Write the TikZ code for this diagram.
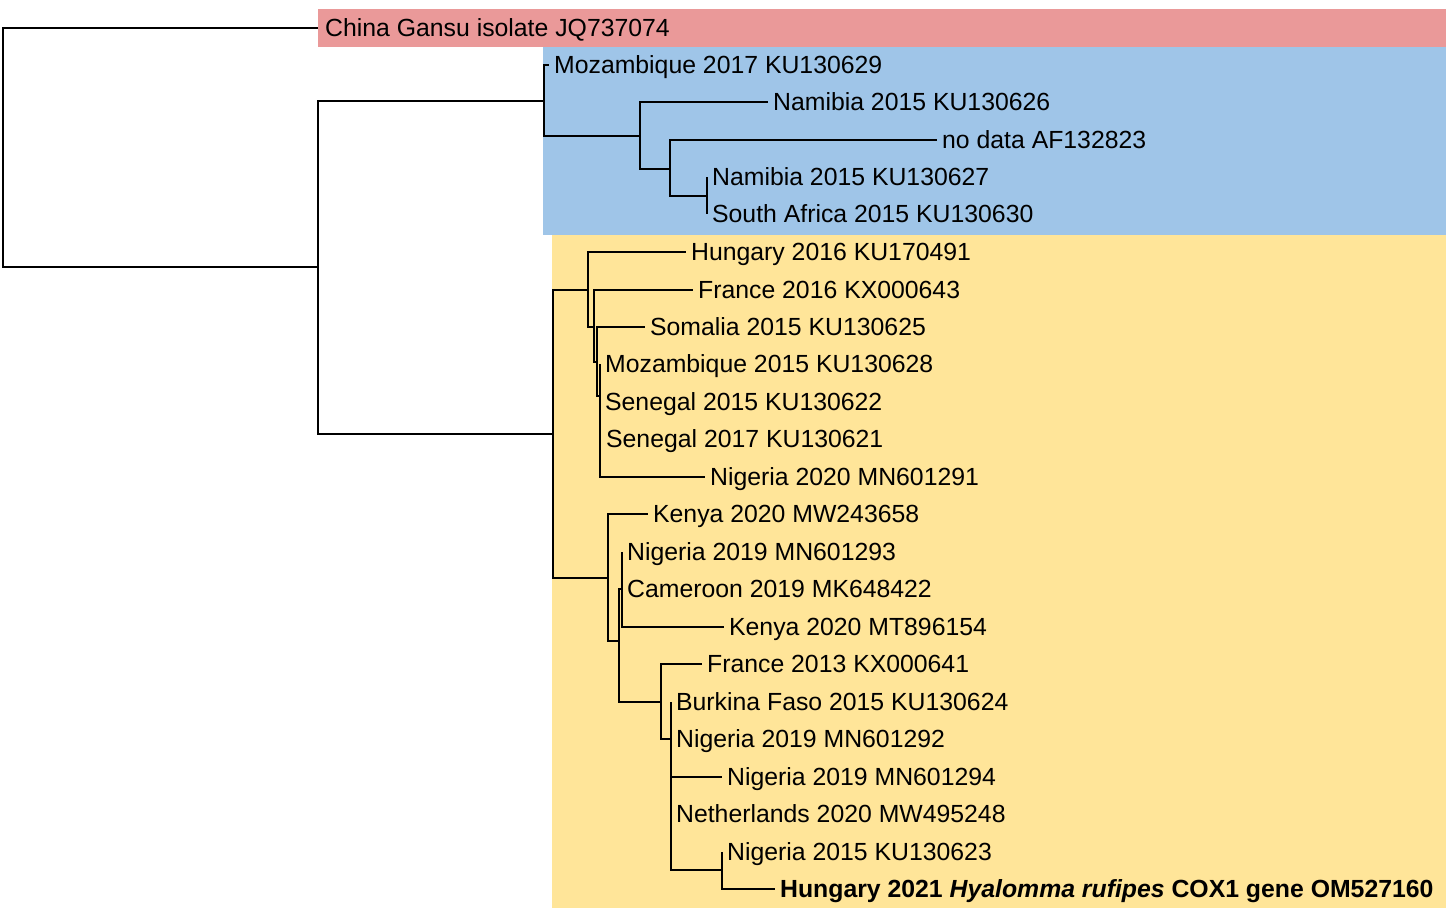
\documentclass[tikz,border=0pt]{standalone}
\usepackage{fontspec}
\setmainfont{Liberation Sans}
\definecolor{cladered}{HTML}{EA9999}
\definecolor{cladeblue}{HTML}{9FC5E8}
\definecolor{cladeyellow}{HTML}{FFE599}
\tikzset{
	leaf/.style={anchor=west, inner xsep=2pt, inner ysep=1pt, text height=8.9pt, text depth=0pt, font=\fontsize{12.4}{15}\selectfont},
	elbow/.style={to path={|- (\tikztotarget)}},
}
\begin{document}
\begin{tikzpicture}[x=0.5pt,y=-0.5pt,line width=1.15pt]
			\useasboundingbox (0,0) rectangle (1446,908);
			\fill[cladered] (318,9) rectangle (1446,47);
			\fill[cladeblue] (543,47) rectangle (1446,235);
			\fill[cladeyellow] (552,235) rectangle (1446,908);

			\coordinate	(root) at (3,148);
			\coordinate	(ingrp) at (318,267);
			\coordinate	(bl1) at (544,101);
			\coordinate	(bl2) at (640,136);
			\coordinate	(bl3) at (670,169);
			\coordinate	(bl4) at (707,196);
			\coordinate	(yl0) at (553,434);
			\coordinate	(yl1) at (588,290);
			\coordinate	(yl2) at (594,327);
			\coordinate	(yl3) at (597,362);
			\coordinate	(yl4) at (600,396);
			\coordinate	(yl5) at (608,578);
			\coordinate	(yl6) at (619,641);
			\coordinate	(yl7) at (622,589);
			\coordinate	(yl8) at (661,702);
			\coordinate	(yl9) at (671,739);
			\coordinate	(yl10) at (722,870);

			\node	(china) at (318,28) [leaf, inner xsep=3pt] {China Gansu isolate JQ737074};
			\node	(moz17) at (549,65) [leaf] {Mozambique 2017 KU130629};
			\node	(nam26) at (768,102) [leaf] {Namibia 2015 KU130626};
			\node	(nodata) at (937,140) [leaf] {no data AF132823};
			\node	(nam27) at (707,177) [leaf] {Namibia 2015 KU130627};
			\node	(safr) at (707,214) [leaf] {South Africa 2015 KU130630};
			\node	(hun16) at (686,252) [leaf] {Hungary 2016 KU170491};
			\node	(fra16) at (693,290) [leaf] {France 2016 KX000643};
			\node	(som) at (645,327) [leaf] {Somalia 2015 KU130625};
			\node	(moz15) at (600,364) [leaf] {Mozambique 2015 KU130628};
			\node	(sen15) at (600,402) [leaf] {Senegal 2015 KU130622};
			\node	(sen17) at (601,439) [leaf] {Senegal 2017 KU130621};
			\node	(nig20) at (705,477) [leaf] {Nigeria 2020 MN601291};
			\node	(ken58) at (648,514) [leaf] {Kenya 2020 MW243658};
			\node	(nig93) at (622,552) [leaf] {Nigeria 2019 MN601293};
			\node	(cam) at (622,589) [leaf] {Cameroon 2019 MK648422};
			\node	(ken54) at (724,627) [leaf] {Kenya 2020 MT896154};
			\node	(fra13) at (702,664) [leaf] {France 2013 KX000641};
			\node	(bur) at (671,702) [leaf] {Burkina Faso 2015 KU130624};
			\node	(nig92) at (671,739) [leaf] {Nigeria 2019 MN601292};
			\node	(nig94) at (722,777) [leaf] {Nigeria 2019 MN601294};
			\node	(neth) at (671,814) [leaf] {Netherlands 2020 MW495248};
			\node	(nig15) at (722,852) [leaf] {Nigeria 2015 KU130623};
			\node	(hun21) at (775,889) [leaf] {\textbf{Hungary 2021 \textit{Hyalomma rufipes} COX1 gene OM527160}};

			\draw 
			(root) edge[elbow] (china)
			(root) edge[elbow] (ingrp)
			(ingrp) edge[elbow] (bl1)
			(ingrp) edge[elbow] (yl0)
			(bl1) edge[elbow] (moz17)
			(bl1) edge[elbow] (bl2)
			(bl2) edge[elbow] (nam26)
			(bl2) edge[elbow] (bl3)
			(bl3) edge[elbow] (nodata)
			(bl3) edge[elbow] (bl4)
			(bl4) edge[elbow] (nam27)
			(bl4) edge[elbow] (safr)
			(yl0) edge[elbow] (yl1)
			(yl0) edge[elbow] (yl5)
			(yl1) edge[elbow] (hun16)
			(yl1) edge[elbow] (yl2)
			(yl2) edge[elbow] (fra16)
			(yl2) edge[elbow] (yl3)
			(yl3) edge[elbow] (som)
			(yl3) edge[elbow] (yl4)
			(yl4) edge[elbow] (moz15)
			(yl4) edge[elbow] (sen15)
			(yl4) edge[elbow] (sen17)
			(yl4) edge[elbow] (nig20)
			(yl5) edge[elbow] (ken58)
			(yl5) edge[elbow] (yl6)
			(yl6) edge[elbow] (yl7)
			(yl6) edge[elbow] (yl8)
			(yl7) edge[elbow] (nig93)
			(yl7) edge[elbow] (cam)
			(yl7) edge[elbow] (ken54)
			(yl8) edge[elbow] (fra13)
			(yl8) edge[elbow] (yl9)
			(yl9) edge[elbow] (bur)
			(yl9) edge[elbow] (nig92)
			(yl9) edge[elbow] (nig94)
			(yl9) edge[elbow] (neth)
			(yl9) edge[elbow] (yl10)
			(yl10) edge[elbow] (nig15)
			(yl10) edge[elbow] (hun21)
			;
		\end{tikzpicture}
\end{document}
